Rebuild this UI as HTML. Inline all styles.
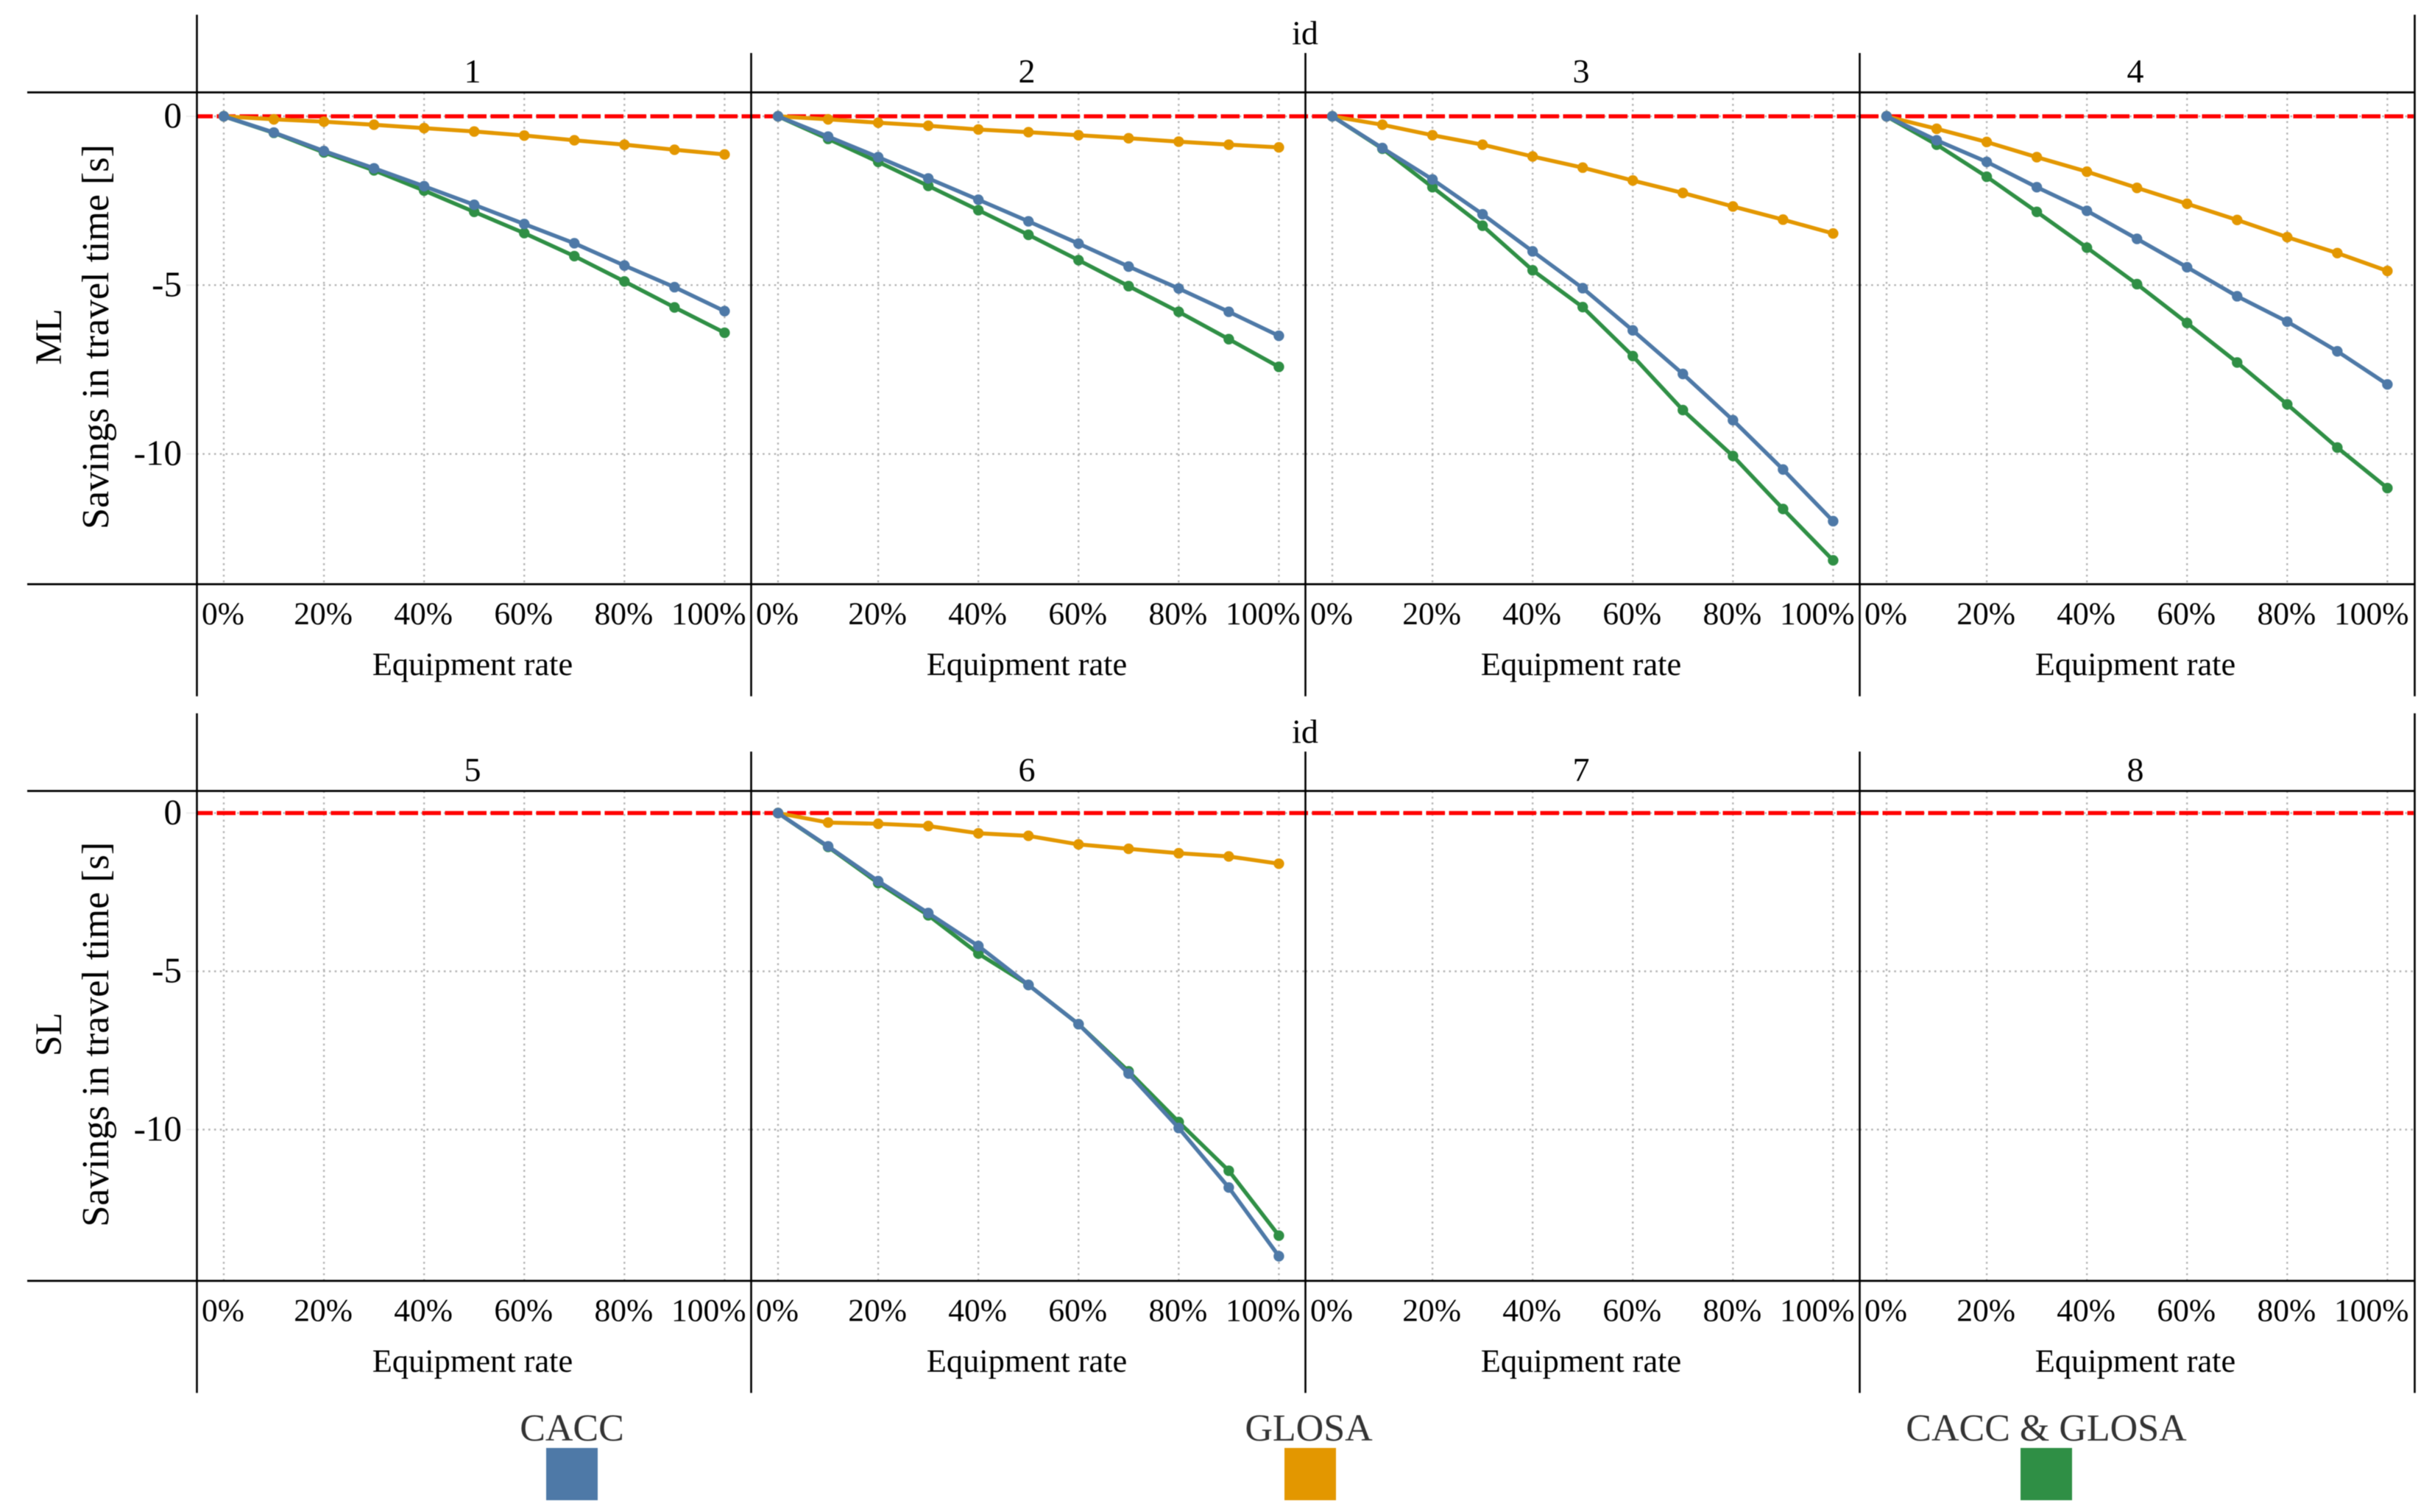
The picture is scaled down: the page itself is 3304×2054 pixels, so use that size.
<!DOCTYPE html>
<html lang="en">
<head>
<meta charset="utf-8">
<title>Savings in travel time by equipment rate</title>
<style>
html,body{margin:0;padding:0;background:#fff;}
svg{display:block;font-family:"Liberation Serif",serif;fill:#000;}
#plot,#legend{filter:blur(0.6px);}
</style>
</head>
<body>
<svg id="chart" xmlns="http://www.w3.org/2000/svg" width="3304" height="2054" viewBox="0 0 3304 2054">
  <rect x="0" y="0" width="3304" height="2054" fill="#ffffff"/>
  <g id="plot"></g>
  <g id="legend">
    <text x="777" y="1957" font-size="52" text-anchor="middle" fill="#333">CACC</text>
    <rect x="742" y="1967" width="70" height="71" fill="#4e79a7"/>
    <text x="1778" y="1957" font-size="52" text-anchor="middle" fill="#333">GLOSA</text>
    <rect x="1745" y="1967" width="70" height="71" fill="#e39700"/>
    <text x="2780" y="1957" font-size="52" text-anchor="middle" fill="#333">CACC &amp; GLOSA</text>
    <rect x="2745" y="1967" width="70" height="71" fill="#2f8f45"/>
  </g>
</svg>
<script>
// ---- data ----
const equipmentRates = [0,10,20,30,40,50,60,70,80,90,100];
const xTickValues = [0,20,40,60,80,100];
const yTickValues = [0,-5,-10];
const rowLabels = ['ML','SL'];
const panelIds = [1,2,3,4,5,6,7,8];

const panel1Cacc  = [0,-0.48,-1.03,-1.54,-2.07,-2.62,-3.19,-3.76,-4.42,-5.06,-5.77];
const panel1Glosa = [0,-0.09,-0.16,-0.25,-0.35,-0.45,-0.57,-0.71,-0.84,-0.99,-1.13];
const panel1Both  = [0,-0.49,-1.07,-1.60,-2.20,-2.83,-3.46,-4.14,-4.89,-5.66,-6.41];

const panel2Cacc  = [0,-0.60,-1.21,-1.84,-2.47,-3.11,-3.77,-4.45,-5.10,-5.79,-6.50];
const panel2Glosa = [0,-0.09,-0.19,-0.28,-0.39,-0.47,-0.56,-0.65,-0.75,-0.84,-0.92];
const panel2Both  = [0,-0.67,-1.35,-2.06,-2.78,-3.51,-4.26,-5.03,-5.79,-6.60,-7.42];

const panel3Cacc  = [0,-0.94,-1.87,-2.90,-4.00,-5.09,-6.34,-7.63,-9.00,-10.46,-11.99];
const panel3Glosa = [0,-0.25,-0.56,-0.84,-1.19,-1.52,-1.90,-2.27,-2.67,-3.06,-3.47];
const panel3Both  = [0,-0.96,-2.10,-3.24,-4.56,-5.65,-7.10,-8.70,-10.06,-11.63,-13.15];

const panel4Cacc  = [0,-0.71,-1.35,-2.10,-2.80,-3.63,-4.47,-5.33,-6.08,-6.96,-7.94];
const panel4Glosa = [0,-0.37,-0.76,-1.21,-1.64,-2.12,-2.59,-3.07,-3.58,-4.05,-4.58];
const panel4Both  = [0,-0.84,-1.79,-2.83,-3.89,-4.97,-6.12,-7.29,-8.53,-9.81,-11.01];

const panel6Cacc  = [0,-1.05,-2.15,-3.16,-4.20,-5.43,-6.67,-8.23,-9.95,-11.83,-14.00];
const panel6Glosa = [0,-0.30,-0.34,-0.41,-0.64,-0.72,-0.99,-1.13,-1.27,-1.37,-1.60];
const panel6Both  = [0,-1.07,-2.21,-3.23,-4.44,-5.43,-6.67,-8.16,-9.76,-11.30,-13.35];

// ---- layout ----
const NS = 'http://www.w3.org/2000/svg';
const plot = document.getElementById('plot');
const panelLeft0 = 267.5, panelWidth = 753, xInset = 36.5, xSpan = 680.4;
const rowTop = [125.5, 1074.5];
const rowBottom = [793.6, 1740];
const rowZero = [158, 1104.5];
const rowUnit = [45.87, 43];
const colors = {cacc:'#4e79a7', glosa:'#e39700', both:'#2f8f45'};

function xScale(rate, col){ return panelLeft0 + col*panelWidth + xInset + rate/100*xSpan; }
function yScale(value, row){ return rowZero[row] - value*rowUnit[row]; }

function mk(tag, attrs, parent){
  const el = document.createElementNS(NS, tag);
  for (const k in attrs) el.setAttribute(k, attrs[k]);
  (parent || plot).appendChild(el);
  return el;
}

function seriesFor(id){
  if (id === 1) return {both:panel1Both, glosa:panel1Glosa, cacc:panel1Cacc};
  if (id === 2) return {both:panel2Both, glosa:panel2Glosa, cacc:panel2Cacc};
  if (id === 3) return {both:panel3Both, glosa:panel3Glosa, cacc:panel3Cacc};
  if (id === 4) return {both:panel4Both, glosa:panel4Glosa, cacc:panel4Cacc};
  if (id === 6) return {both:panel6Both, glosa:panel6Glosa, cacc:panel6Cacc};
  return null;
}

const gridStyle = {stroke:'#b4b4b4','stroke-width':2.4,'stroke-dasharray':'2.6 5.2',fill:'none'};

panelIds.forEach(function(id, idx){
  const row = Math.floor(idx/4), col = idx%4;
  const left = panelLeft0 + col*panelWidth;
  const group = mk('g', {});
  
  

  // vertical grid + x tick labels
  xTickValues.forEach(function(t){
    const x = xScale(t, col);
    const g = mk('line', Object.assign({x1:x, x2:x, y1:rowTop[row], y2:rowBottom[row]}, gridStyle), group);
    
    
    let lx = x - 1, anchor = 'middle';
    if (t === 100) { lx = left + 746; anchor = 'end'; }
    const lbl = mk('text', {x:lx, y:rowBottom[row]+54.5, 'font-size':43.5, 'text-anchor':anchor}, group);
    lbl.textContent = t + '%';
    
    
  });

  // horizontal grid
  yTickValues.forEach(function(t){
    const y = yScale(t, row);
    const g = mk('line', Object.assign({x1:left, x2:left+panelWidth, y1:y, y2:y}, gridStyle), group);
    
    
  });

  // panel title
  const title = mk('text', {x:left+panelWidth/2-2, y:rowTop[row]-13.5, 'font-size':46, 'text-anchor':'middle'}, group);
  title.textContent = String(id);
  
  

  // x axis title
  const xt = mk('text', {x:left+panelWidth/2-2, y:rowBottom[row]+123.4, 'font-size':44.4, 'text-anchor':'middle'}, group);
  xt.textContent = 'Equipment rate';
  
  
});

// row furniture
rowLabels.forEach(function(name, row){
  const midY = (rowTop[row]+rowBottom[row])/2 - 2;
  const idLabel = mk('text', {x:1773, y:rowTop[row]-65.5, 'font-size':46, 'text-anchor':'middle'});
  idLabel.textContent = 'id';
  
  

  const rl = mk('text', {x:83, y:midY, 'font-size':51, 'text-anchor':'middle', transform:'rotate(-90 83 ' + midY + ')'});
  rl.textContent = name;
  
  

  const yt = mk('text', {x:147, y:midY, 'font-size':52, 'text-anchor':'middle', transform:'rotate(-90 147 ' + midY + ')'});
  yt.textContent = 'Savings in travel time [s]';
  
  

  yTickValues.forEach(function(t){
    const y = yScale(t, row);
    const lbl = mk('text', {x:247, y:y+15, 'font-size':49, 'text-anchor':'end'});
    lbl.textContent = String(t);
    
    
    const tk = mk('line', {x1:253, x2:267, y1:y, y2:y, stroke:'#eeeeee', 'stroke-width':2});
    
    
  });

  // red zero reference line
  const zero = mk('line', {x1:268, x2:3279, y1:yScale(0,row), y2:yScale(0,row), stroke:'#ff0000', 'stroke-width':5.6, 'stroke-dasharray':'25.5 5.5', 'stroke-dashoffset':4.5});
  
  

  // axes
  [rowTop[row], rowBottom[row]].forEach(function(y){
    const h = mk('line', {x1:37, x2:3280, y1:y, y2:y, stroke:'#000', 'stroke-width':2.8});
    
    
  });
  for (let c = 0; c <= 4; c++) {
    const x = panelLeft0 + c*panelWidth + (c === 4 ? 1 : 0);
    const outer = (c === 0 || c === 4);
    const v = mk('line', {x1:x, x2:x, y1:rowTop[row]-(outer?105.5:53.5), y2:rowBottom[row]+152.3, stroke:'#000', 'stroke-width':2.6});
    
    
  }
});

// series on top
panelIds.forEach(function(id, idx){
  const row = Math.floor(idx/4), col = idx%4;
  const s = seriesFor(id);
  if (!s) return;
  ['both','glosa','cacc'].forEach(function(key){
    const values = s[key];
    const pts = values.map(function(v,i){ return xScale(equipmentRates[i], col).toFixed(1) + ',' + yScale(v, row).toFixed(1); }).join(' ');
    const line = mk('polyline', {points:pts, fill:'none', stroke:colors[key], 'stroke-width':5.4, 'stroke-linejoin':'round'});
    
    
    values.forEach(function(v,i){
      const dot = mk('circle', {cx:xScale(equipmentRates[i], col), cy:yScale(v, row), r:7.2, fill:colors[key]});
      
      
    });
  });
});
</script>
</body>
</html>
